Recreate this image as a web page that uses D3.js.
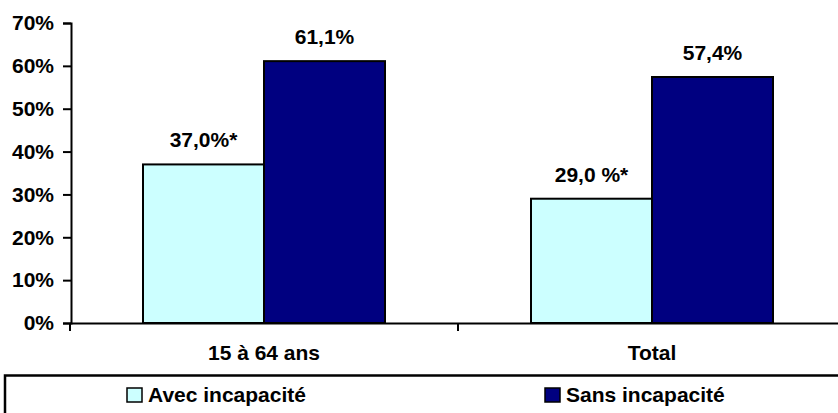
<!DOCTYPE html>
<html>
<head>
<meta charset="utf-8">
<script src="https://cdn.jsdelivr.net/npm/d3@7"></script>
<style>
  body { margin: 0; background: #fff; }
  svg text { font-family: Arial, "Liberation Sans", sans-serif; font-weight: bold; fill: #000; }
</style>
</head>
<body>
<svg id="viz"></svg>
<script>
var width = 838, height = 413

var categories = ['15 à 64 ans', 'Total']
var series = ['Avec incapacité', 'Sans incapacité']
var avec = [0.370, 0.290]
var sans = [0.611, 0.574]
var avecLabels = ['37,0%*', '29,0 %*']
var sansLabels = ['61,1%', '57,4%']
var yTicks = [0, 0.1, 0.2, 0.3, 0.4, 0.5, 0.6, 0.7]
var colors = ['#CCFFFF', '#000080']

var fontSize = '21px'

var rows = categories.map((c, i) => ({
  cat: c,
  bars: [
    {key: series[0], value: avec[i], label: avecLabels[i]},
    {key: series[1], value: sans[i], label: sansLabels[i]}
  ]
}))

const svg = d3.select('svg#viz')
    .attr('width', width)
    .attr('height', height)

const x0 = d3.scaleBand().domain(categories).range([70, 846])
const x1 = d3.scaleBand().domain(series).range([73, 315])
const y = d3.scaleLinear().domain([0, 0.7]).range([323, 23])
const color = d3.scaleOrdinal().domain(series).range(colors)

// bars
const group = svg.append('g')
  .selectAll('g')
  .data(rows)
  .join('g')
    .attr('transform', d => `translate(${x0(d.cat)},0)`)

group.selectAll('rect')
  .data(d => d.bars)
  .join('rect')
    .attr('x', d => x1(d.key))
    .attr('y', d => y(d.value))
    .attr('width', x1.bandwidth())
    .attr('height', d => y(0) - y(d.value))
    .attr('fill', d => color(d.key))
    .attr('stroke', '#000')
    .attr('stroke-width', 2)

group.selectAll('text')
  .data(d => d.bars)
  .join('text')
    .attr('x', d => x1(d.key) + x1.bandwidth() / 2)
    .attr('y', d => y(d.value) - 17)
    .attr('text-anchor', 'middle')
    .style('font-size', fontSize)
    .text(d => d.label)

// y axis
const yAxis = svg.append('g')
    .attr('transform', 'translate(71,0)')
    .call(d3.axisLeft(y).tickValues(yTicks).tickFormat(d3.format('.0%')).tickSize(8).tickPadding(9))
yAxis.select('.domain').attr('stroke-width', 2)
yAxis.selectAll('.tick line').attr('stroke-width', 2)
yAxis.selectAll('.tick text').style('font-size', fontSize).attr('font-family', null)

// x axis
const xAxis = svg.append('g')
    .attr('transform', 'translate(0,323)')
    .call(d3.axisBottom(x0).tickSize(0).tickPadding(22).tickSizeOuter(0))
xAxis.select('.domain').attr('stroke-width', 2)
xAxis.selectAll('.tick text').style('font-size', fontSize).attr('font-family', null)

// category separators
xAxis.selectAll('line.sep')
  .data(categories.concat(['end']))
  .join('line')
    .attr('class', 'sep')
    .attr('x1', (d, i) => x0.range()[0] + i * x0.bandwidth())
    .attr('x2', (d, i) => x0.range()[0] + i * x0.bandwidth())
    .attr('y1', 0)
    .attr('y2', 8)
    .attr('stroke', '#000')
    .attr('stroke-width', 2)

// legend
const legend = svg.append('g')
legend.append('rect')
    .attr('x', 5)
    .attr('y', 375.5)
    .attr('width', 850)
    .attr('height', 60)
    .attr('fill', 'none')
    .attr('stroke', '#000')
    .attr('stroke-width', 2.5)

const item = legend.selectAll('g.item')
  .data(series)
  .join('g')
    .attr('class', 'item')
    .attr('transform', (d, i) => `translate(${127 + i * 418},388)`)

item.append('rect')
    .attr('width', 15)
    .attr('height', 14)
    .attr('fill', d => color(d))
    .attr('stroke', '#000')
    .attr('stroke-width', 1.5)

item.append('text')
    .attr('x', 21)
    .attr('y', 14)
    .style('font-size', fontSize)
    .text(d => d)
</script>
</body>
</html>
